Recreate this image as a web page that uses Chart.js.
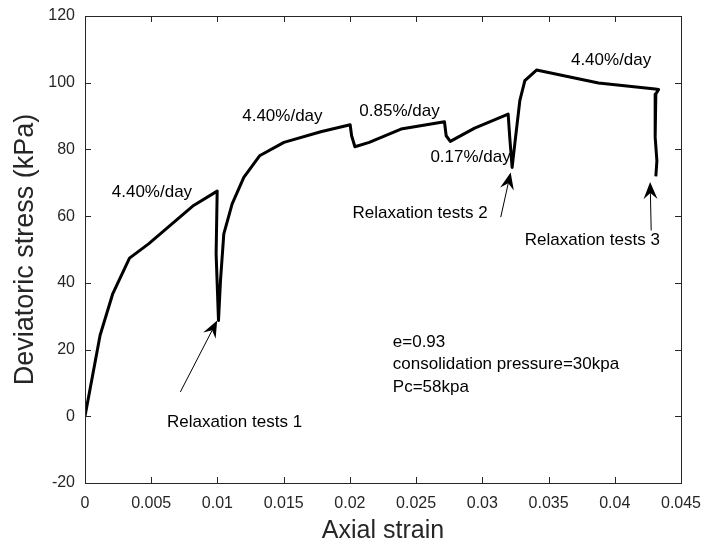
<!DOCTYPE html>
<html>
<head>
<meta charset="utf-8">
<script src="https://cdn.jsdelivr.net/npm/chart.js@4.4.0/dist/chart.umd.min.js"></script>
<style>
  html, body { margin: 0; padding: 0; background: #fff; }
  canvas { display: block; }
</style>
</head>
<body>
<canvas id="chart" width="704" height="548"></canvas>
<script>
// strain / stress
const strain = [
  0, 0.00114, 0.0021, 0.00336, 0.0048, 0.0082, 0.00998,
  0.0099, 0.01008, 0.01023, 0.01048, 0.01111, 0.01199, 0.01318, 0.01502, 0.0178,
  0.02002, 0.02013, 0.02038, 0.02146, 0.02386, 0.02714, 0.02727, 0.02758,
  0.02942, 0.03195, 0.03207, 0.03225, 0.03245, 0.03283, 0.03321, 0.03409,
  0.03877, 0.04305, 0.04331, 0.0431, 0.04305, 0.04318, 0.0431
];
const stress = [
  0, 24.3, 36.8, 47.4, 51.7, 63.2, 67.5,
  48.7, 28.7, 40.7, 54.7, 63.7, 71.6, 78.1, 82.1, 85.3,
  87.4, 84.1, 80.8, 82.1, 86.1, 88.3, 84.1, 82.4,
  86.4, 90.6, 83.6, 74.6, 81.6, 94.6, 100.6, 103.8,
  99.9, 98.1, 98.0, 96.6, 83.6, 76.6, 71.9
];

const xTicks = [0, 0.005, 0.01, 0.015, 0.02, 0.025, 0.03, 0.035, 0.04, 0.045];
const yTicks = [-20, 0, 20, 40, 60, 80, 100, 120];

// text labels in data coordinates (left aligned, vertically centred)
const labelText = [
  '4.40%/day', '4.40%/day', '0.85%/day', '0.17%/day', '4.40%/day',
  'Relaxation tests 1', 'Relaxation tests 2', 'Relaxation tests 3',
  'e=0.93', 'consolidation pressure=30kpa', 'Pc=58kpa'
];
const labelX = [0.00202, 0.01187, 0.02071, 0.02608, 0.03669, 0.00619, 0.0202, 0.0332, 0.02324, 0.02324, 0.02324];
const labelY = [67.2, 89.9, 91.3, 77.5, 106.8, -1.7, 60.7, 52.9, 22.2, 15.5, 8.6];

// arrows: tail -> tip
const arrowTail = [[0.0072, 7.3], [0.03139, 59.7], [0.04275, 55.7]];
const arrowTip = [[0.00998, 28.7], [0.03214, 73.1], [0.04267, 70.2]];

const FONT = '"Liberation Sans", Arial, sans-serif';
const AXIS_COLOR = '#262626';

const points = strain.map((x, i) => ({ x: x, y: stress[i] }));

function drawArrow(ctx, x1, y1, x2, y2) {
  const ang = Math.atan2(y2 - y1, x2 - x1);
  const len = 17, half = 7, notch = 11;
  const bx = x2 - Math.cos(ang) * notch, by = y2 - Math.sin(ang) * notch;
  ctx.beginPath();
  ctx.moveTo(x1, y1);
  ctx.lineTo(bx, by);
  ctx.lineWidth = 1;
  ctx.strokeStyle = '#000';
  ctx.stroke();
  const cx = x2 - Math.cos(ang) * len, cy = y2 - Math.sin(ang) * len;
  const px = -Math.sin(ang) * half, py = Math.cos(ang) * half;
  ctx.beginPath();
  ctx.moveTo(x2, y2);
  ctx.lineTo(cx + px, cy + py);
  ctx.lineTo(bx, by);
  ctx.lineTo(cx - px, cy - py);
  ctx.closePath();
  ctx.fillStyle = '#000';
  ctx.fill();
}

const boxPlugin = {
  id: 'boxPlugin',
  afterDatasetsDraw(chart) {
    const { ctx, chartArea: a, scales: { x, y } } = chart;
    ctx.save();
    // axes box with inward ticks
    ctx.strokeStyle = AXIS_COLOR;
    ctx.lineWidth = 1;
    ctx.strokeRect(a.left + 0.5, a.top + 0.5, a.right - a.left, a.bottom - a.top);
    const tl = 6;
    ctx.beginPath();
    xTicks.forEach(v => {
      const px = Math.round(x.getPixelForValue(v)) + 0.5;
      ctx.moveTo(px, a.bottom); ctx.lineTo(px, a.bottom - tl);
      ctx.moveTo(px, a.top); ctx.lineTo(px, a.top + tl);
    });
    yTicks.forEach(v => {
      const py = Math.round(y.getPixelForValue(v)) + 0.5;
      ctx.moveTo(a.left, py); ctx.lineTo(a.left + tl, py);
      ctx.moveTo(a.right, py); ctx.lineTo(a.right - tl, py);
    });
    ctx.stroke();

    // arrows
    arrowTail.forEach((t, i) => {
      drawArrow(ctx,
        x.getPixelForValue(t[0]), y.getPixelForValue(t[1]),
        x.getPixelForValue(arrowTip[i][0]), y.getPixelForValue(arrowTip[i][1]));
    });

    // text
    ctx.fillStyle = '#000';
    ctx.font = '17px ' + FONT;
    ctx.textAlign = 'left';
    ctx.textBaseline = 'middle';
    labelText.forEach((t, i) => {
      ctx.fillText(t, x.getPixelForValue(labelX[i]), y.getPixelForValue(labelY[i]));
    });
    ctx.restore();
  }
};

new Chart(document.getElementById('chart'), {
  type: 'scatter',
  data: {
    datasets: [{
      data: points,
      showLine: true,
      borderColor: '#000',
      borderWidth: 3,
      borderJoinStyle: 'round',
      pointRadius: 0,
      tension: 0,
      fill: false
    }]
  },
  options: {
    responsive: false,
    animation: false,
    devicePixelRatio: 1,
    layout: { padding: { top: 16, right: 23, left: 0, bottom: 0 } },
    plugins: { legend: { display: false }, tooltip: { enabled: false } },
    scales: {
      x: {
        type: 'linear',
        min: 0,
        max: 0.045,
        afterFit: s => { s.height = 65; s.paddingLeft = 0; s.paddingRight = 0; },
        afterBuildTicks: s => { s.ticks = xTicks.map(v => ({ value: v })); },
        grid: { display: false, drawTicks: false },
        border: { display: false },
        ticks: {
          padding: 11,
          color: AXIS_COLOR,
          font: { family: FONT, size: 16 },
          maxRotation: 0,
          autoSkip: false,
          callback: v => String(Number(v.toFixed(3)))
        },
        title: {
          display: true,
          text: 'Axial strain',
          color: AXIS_COLOR,
          font: { family: FONT, size: 25 },
          padding: { top: 0, bottom: 2 }
        }
      },
      y: {
        type: 'linear',
        min: -20,
        max: 120,
        afterFit: s => { s.width = 85; s.paddingTop = 0; s.paddingBottom = 0; },
        afterBuildTicks: s => { s.ticks = yTicks.map(v => ({ value: v })); },
        grid: { display: false, drawTicks: false },
        border: { display: false },
        ticks: {
          padding: 10,
          color: AXIS_COLOR,
          font: { family: FONT, size: 16 },
          autoSkip: false
        },
        title: {
          display: true,
          text: 'Deviatoric stress (kPa)',
          color: AXIS_COLOR,
          font: { family: FONT, size: 27 },
          padding: { top: 9, bottom: 0 }
        }
      }
    }
  },
  plugins: [boxPlugin]
});
</script>
</body>
</html>
